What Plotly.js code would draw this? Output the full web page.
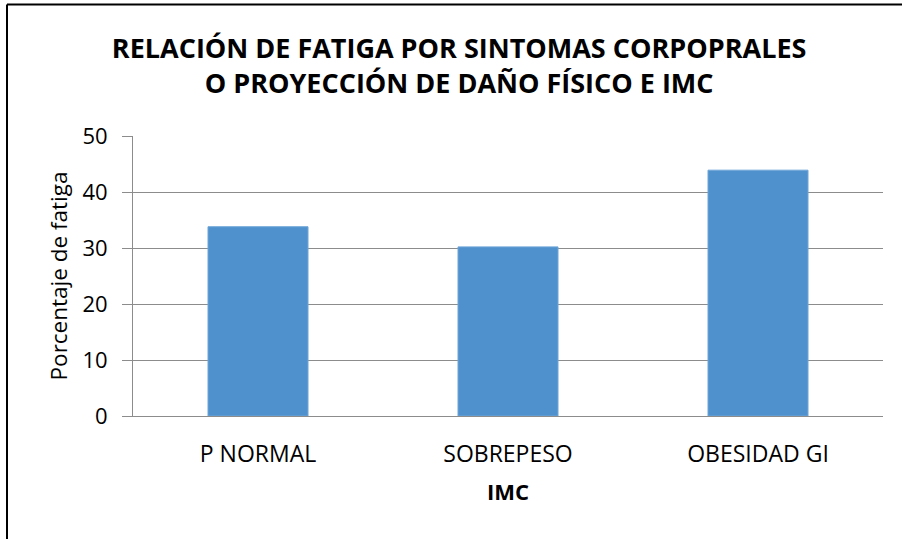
<!DOCTYPE html>
<html>
<head>
<meta charset="utf-8">
<script src="https://cdn.plot.ly/plotly-3.0.1.min.js"></script>
<style>
html,body{margin:0;padding:0;background:#fff;}
#chart{width:902px;height:539px;}
</style>
</head>
<body>
<div id="chart"></div>
<script>
const categories = ["P NORMAL", "SOBREPESO", "OBESIDAD GI"];
const fatigaValues = [33.8, 30.2, 43.9];
const yTickValues = [0, 10, 20, 30, 40, 50];

const FONT = "Open Sans, sans-serif";

const trace = {
  type: "bar",
  x: categories,
  y: fatigaValues,
  marker: {color: "#4F91CD", line: {color: "#6FA6D8", width: 1}},
  hoverinfo: "x+y"
};

const layout = {
  width: 902,
  height: 539,
  margin: {l: 133, r: 19, t: 136, b: 123},
  paper_bgcolor: "#fff",
  plot_bgcolor: "#fff",
  showlegend: false,
  bargap: 0.6,
  font: {family: FONT, color: "#000"},
  title: {
    text: "<b>RELACIÓN DE FATIGA POR SINTOMAS CORPOPRALES<br>O PROYECCIÓN DE DAÑO FÍSICO E IMC</b>",
    font: {family: FONT, size: 27, color: "#000"},
    xref: "container", x: 0.509, xanchor: "center",
    yref: "container", y: 0.892, yanchor: "middle"
  },
  xaxis: {
    type: "category",
    showgrid: false,
    showline: true,
    linecolor: "#8c8c8c",
    linewidth: 1,
    ticks: "",
    ticklabelstandoff: 17,
    tickfont: {family: FONT, size: 23, color: "#000"},
    title: {text: "<b>IMC</b>", font: {family: FONT, size: 22, color: "#000"}, standoff: 17},
    automargin: false
  },
  yaxis: {
    range: [0, 50],
    tickvals: yTickValues,
    ticktext: yTickValues.map(String),
    showgrid: true,
    gridcolor: "#8c8c8c",
    gridwidth: 1,
    showline: true,
    linecolor: "#8c8c8c",
    linewidth: 1,
    zeroline: false,
    ticks: "outside",
    ticklen: 10,
    tickcolor: "#8c8c8c",
    ticklabelstandoff: 10,
    tickfont: {family: FONT, size: 22, color: "#000"},
    title: {text: "Porcentaje de fatiga", font: {family: FONT, size: 22.5, color: "#000"}, standoff: 8},
    automargin: false
  },
  shapes: [
    {type: "line", xref: "paper", yref: "paper", x0: -0.168, x1: 1.1, y0: 1.47, y1: 1.47, line: {color: "#000", width: 2}},
    {type: "line", xref: "paper", yref: "paper", x0: -0.168, x1: -0.168, y0: 1.47, y1: -0.5, line: {color: "#000", width: 2}}
  ]
};

Plotly.newPlot("chart", [trace], layout, {displayModeBar: false, staticPlot: true});
</script>
</body>
</html>
